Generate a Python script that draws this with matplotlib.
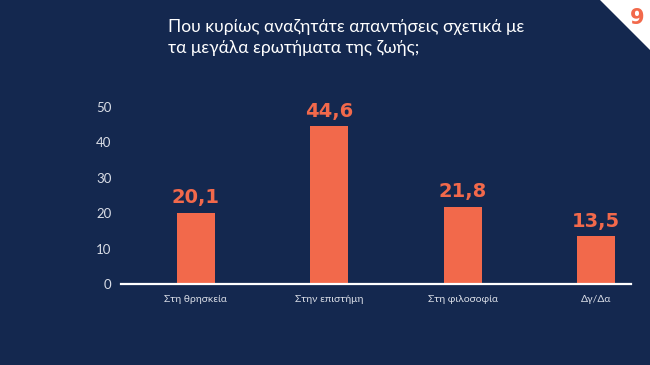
import numpy as np
from matplotlib import pyplot as plt
from matplotlib.patches import Polygon

categories = ['Στη θρησκεία', 'Στην επιστήμη', 'Στη φιλοσοφία', 'Δγ/Δα']
values = [20.1, 44.6, 21.8, 13.5]
value_labels = ['20,1', '44,6', '21,8', '13,5']
yticks = [0, 10, 20, 30, 40, 50]
title = 'Που κυρίως αναζητάτε απαντήσεις σχετικά με\nτα μεγάλα ερωτήματα της ζωής;'
page_no = '9'

bg = '#14284f'
orange = '#f2694b'
light = '#d9dde6'

plt.rcParams['font.family'] = ['Lato', 'DejaVu Sans']

fig = plt.figure(figsize=(6.5, 3.65), dpi=100)
fig.patch.set_facecolor(bg)

ax = fig.add_axes([121 / 650, 81 / 365, 510 / 650, 177 / 365])
ax.set_facecolor(bg)
x = np.arange(len(categories))
ax.bar(x, values, width=0.285, color=orange, zorder=2)
for xi, v, lab in zip(x, values, value_labels):
    ax.annotate(lab, (xi, v), xytext=(0, 4), textcoords='offset points',
                ha='center', va='bottom', fontsize=14, fontweight='bold',
                family='DejaVu Sans', color=orange, annotation_clip=False)

ax.set_xlim(-0.56, 3.26)
ax.set_ylim(0, 50)
ax.set_yticks(yticks)
ax.set_yticklabels([str(t) for t in yticks])
ax.set_xticks(x)
ax.set_xticklabels(categories)
ax.tick_params(axis='y', length=0, pad=7, labelsize=9.5, labelcolor=light)
ax.tick_params(axis='x', length=0, pad=8, labelsize=7.5, labelcolor=light)
for s in ['top', 'right', 'left']:
    ax.spines[s].set_visible(False)
ax.spines['bottom'].set_color('white')
ax.spines['bottom'].set_linewidth(1.6)
ax.spines['bottom'].set_zorder(3)

fig.text(168 / 650, 1 - 19 / 365, title, ha='left', va='top', fontsize=12.5,
         color='white', linespacing=1.35)

# corner marker with page number
tri = Polygon([[600 / 650, 1], [1, 1], [1, 1 - 50 / 365]], closed=True,
              transform=fig.transFigure, facecolor='white', edgecolor='none')
fig.patches.append(tri)
fig.text(637 / 650, 1 - 18 / 365, page_no, ha='center', va='center',
         fontsize=15, fontweight='bold', family='DejaVu Sans', color=orange)

plt.savefig('out.png', dpi=100, facecolor=bg)
